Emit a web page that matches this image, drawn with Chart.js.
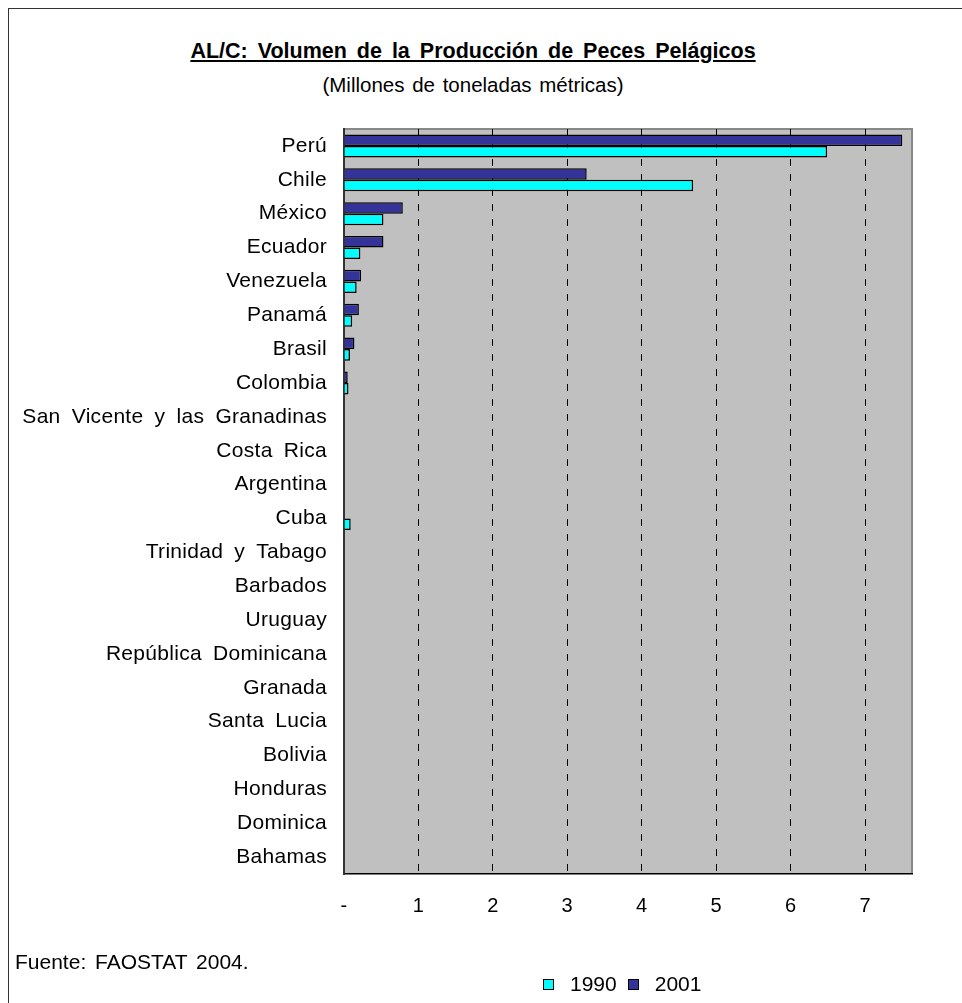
<!DOCTYPE html>
<html>
<head>
<meta charset="utf-8">
<script src="https://cdn.jsdelivr.net/npm/chart.js@4/dist/chart.umd.min.js"></script>
<style>
  body { margin: 0; background: #fff; font-family: "Liberation Sans", Arial, sans-serif; }
  #frame { position: absolute; left: 8px; top: 8px; width: 1000px; height: 1100px; border: 1px solid #333; }
  #wrap { position: absolute; left: 0; top: 0; width: 962px; height: 1003px; }
  .title { position: absolute; left: 0; width: 946px; text-align: center; color: #000; }
  #t1 { top: 39px; font-size: 21.5px; font-weight: bold; text-decoration: underline; word-spacing: 4px; }
  #t2 { top: 73px; font-size: 20.5px; word-spacing: 2px; }
  #src { position: absolute; left: 15px; top: 950px; font-size: 21px; word-spacing: 3px; }
  #legend { position: absolute; left: 543px; top: 972px; font-size: 21px; display: flex; align-items: center; }
  #legend span.box { display: inline-block; width: 9px; height: 9px; border: 1.5px solid #000; margin-right: 16px; }
  #legend span.lab { margin-right: 11px; }
</style>
</head>
<body>
<div id="frame"></div>
<div id="t1" class="title">AL/C: Volumen de la Producción de Peces Pelágicos</div>
<div id="t2" class="title">(Millones de toneladas métricas)</div>
<div id="wrap"><canvas id="mycanvas"></canvas></div>
<div id="src">Fuente: FAOSTAT 2004.</div>
<div id="legend"></div>
<script>
var paises = ["Perú", "Chile", "México", "Ecuador", "Venezuela", "Panamá", "Brasil", "Colombia",
  "San Vicente y las Granadinas", "Costa Rica", "Argentina", "Cuba", "Trinidad y Tabago", "Barbados",
  "Uruguay", "República Dominicana", "Granada", "Santa Lucia", "Bolivia", "Honduras", "Dominica", "Bahamas"];
var v1990 = [6.49, 4.69, 0.53, 0.22, 0.17, 0.11, 0.08, 0.06, 0, 0, 0, 0.09, 0, 0, 0, 0, 0, 0, 0, 0, 0, 0];
var v2001 = [7.50, 3.26, 0.79, 0.53, 0.23, 0.20, 0.14, 0.05, 0, 0, 0, 0, 0, 0, 0, 0, 0, 0, 0, 0, 0, 0];
var xTicks = ["-", "1", "2", "3", "4", "5", "6", "7"];

// fondo gris del area de trazado
var plotBg = {
  id: 'plotBg',
  beforeDraw: function(chart) {
    var a = chart.chartArea, c = chart.ctx;
    c.wordSpacing = '5px';
    c.letterSpacing = '0.3px';
    c.save();
    c.fillStyle = '#c0c0c0';
    c.fillRect(a.left, a.top, a.right - a.left, a.bottom - a.top);
    c.strokeStyle = '#888';
    c.lineWidth = 2;
    c.beginPath();
    c.moveTo(a.left, a.top);
    c.lineTo(a.right, a.top);
    c.lineTo(a.right, a.bottom);
    c.stroke();
    c.restore();
  }
};

var chartdata = {
  labels: paises,
  datasets: [
    { label: '2001', backgroundColor: '#333399', borderColor: '#000', borderWidth: 1.5, data: v2001 },
    { label: '1990', backgroundColor: '#00ffff', borderColor: '#000', borderWidth: 1.5, data: v1990 }
  ]
};

var ctx = document.getElementById('mycanvas');
var myChart = new Chart(ctx, {
  type: 'bar',
  data: chartdata,
  plugins: [plotBg],
  options: {
    indexAxis: 'y',
    responsive: true,
    maintainAspectRatio: false,
    animation: false,
    categoryPercentage: 0.68,
    barPercentage: 1,
    layout: { padding: { left: 0, right: 50, top: 129, bottom: 79 } },
    plugins: { legend: { display: false }, tooltip: { enabled: false } },
    scales: {
      x: {
        min: 0, max: 7.63,
        afterFit: function(s) { s.height = 50; },
        grid: {
          drawTicks: false,
          color: function(c) { return c.tick && c.tick.value > 0 ? '#000' : 'rgba(0,0,0,0)'; },
          lineWidth: 1
        },
        border: { color: '#000', width: 1.5, dash: [7, 8] },
        ticks: {
          stepSize: 1, includeBounds: false, padding: 20,
          color: '#000', font: { family: 'Liberation Sans', size: 20 },
          callback: function(v) { return xTicks[v]; }
        }
      },
      y: {
        afterFit: function(s) { s.width = 344; },
        border: { display: true, color: '#333', width: 2 },
        grid: { display: false, drawTicks: false },
        ticks: { padding: 17, color: '#000', font: { family: 'Liberation Sans', size: 21 } }
      }
    }
  }
});

var leg = document.getElementById('legend');
chartdata.datasets.slice().reverse().forEach(function(d) {
  leg.innerHTML += '<span class="box" style="background:' + d.backgroundColor + '"></span><span class="lab">' + d.label + '</span>';
});
</script>
</body>
</html>
